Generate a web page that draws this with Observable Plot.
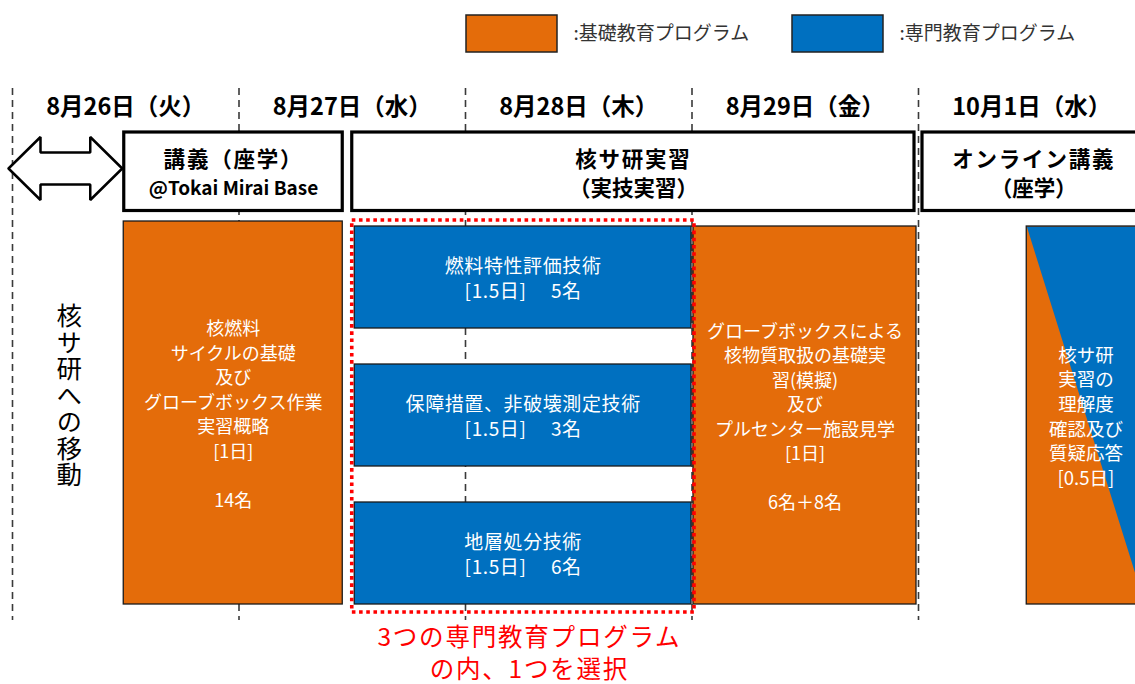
<!DOCTYPE html>
<html>
<head>
<meta charset="utf-8">
<script src="https://cdn.jsdelivr.net/npm/d3@7"></script>
<script src="https://cdn.jsdelivr.net/npm/@observablehq/plot@0.6"></script>
<style>
  html, body { margin: 0; padding: 0; background: #fff; overflow: hidden; }
  #chart svg { display: block; }
</style>
</head>
<body>
<div id="chart"></div>
<script>
// ---------------- data ----------------
const dayLabels = ["8月26日（火）", "8月27日（水）", "8月28日（木）", "8月29日（金）", "10月1日（水）"];
const daySlots = [0, 2, 4, 6, 8];            // first half-day slot of each day column

const sessionTitles = ["講義（座学）", "核サ研実習", "オンライン講義"];
const sessionSubtitles = ["@Tokai Mirai Base", "（実技実習）", "（座学）"];
const sessionStart = [1, 3, 8];               // half-day slots
const sessionEnd = [3, 8, 10];

const programTypes = ["基礎教育プログラム", "専門教育プログラム"];
const legendLabels = [":基礎教育プログラム", ":専門教育プログラム"];
const typeColors = ["#E46C0A", "#0070C0"];

const blockText = [
  "核燃料\nサイクルの基礎\n及び\nグローブボックス作業\n実習概略\n[1日]\n\n14名",
  "燃料特性評価技術\n[1.5日]　 5名",
  "保障措置、非破壊測定技術\n[1.5日]　 3名",
  "地層処分技術\n[1.5日]　 6名",
  "グローブボックスによる\n核物質取扱の基礎実\n習(模擬)\n及び\nプルセンター施設見学\n[1日]\n\n6名＋8名",
  "核サ研\n実習の\n理解度\n確認及び\n質疑応答\n[0.5日]"
];
const blockType = ["基礎教育プログラム", "専門教育プログラム", "専門教育プログラム", "専門教育プログラム", "基礎教育プログラム", "混合"];
const blockStart = [1, 3, 3, 3, 6, 9];
const blockEnd = [3, 6, 6, 6, 8, 10];
const blockLane = [null, 0, 1, 2, null, null]; // the 3 parallel elective programmes

const travelLabel = "核サ研への移動";
const travelStart = 0, travelEnd = 1;
const choiceNote = "3つの専門教育プログラム\nの内、1つを選択";

// ---------------- layout (pixels) ----------------
const X0 = 12, SLOT = 113.25;
const px = p => p / SLOT;                      // pixel offset -> slot units
const L = {
  legendY: [15, 52], legendTextY: 33.5, legendLeft: [466, 792], legendW: 91,
  dayLabelY: 107,
  ruleY: [88, 620],
  headY: [132, 210.5], headTitleY: 159.5, headSubY: 188.5,
  headInset: [[-1.5, 9.5], [0, 4], [4, 0]],
  bodyY: [226, 604], laneGap: 36,
  blockInset: [[-2, 9.5, -5], [2.5, 0.5, 0], [2.5, 0.5, 0], [2.5, 0.5, 0], [1.5, 2, 0], [-5, 0, 0]],
  choiceY: [220, 612], noteY: 651,
  travelY: 387, arrowY: 168
};

// ---------------- derived tables ----------------
const sessions = sessionTitles.map((t, i) => {
  const [il, ir] = L.headInset[i];
  const x1 = sessionStart[i] + px(il), x2 = sessionEnd[i] - px(ir);
  return {title: t, sub: sessionSubtitles[i], x1, x2, cx: (x1 + x2) / 2, i};
});

const blocks = blockText.map((text, i) => {
  const [top, bottom] = L.bodyY;
  const [il, ir, it] = L.blockInset[i];
  let y1 = top + it, y2 = bottom;
  const lane = blockLane[i];
  if (lane != null) {
    const h = (bottom - top - 2 * L.laneGap) / 3;
    y1 = top + lane * (h + L.laneGap);
    y2 = y1 + h;
  }
  const x1 = blockStart[i] + px(il), x2 = blockEnd[i] - px(ir);
  const isMixed = !programTypes.includes(blockType[i]);
  const type = isMixed ? programTypes[0] : blockType[i];
  return {text, type, mixed: isMixed, elective: lane != null, x1, x2, y1, y2,
          cx: (x1 + x2) / 2, cy: (y1 + y2) / 2};
});

// split blue/orange triangle in the mixed block
const mixed = blocks.find(b => b.mixed);
const tri = [
  {x: mixed.x1, y: mixed.y1}, {x: mixed.x2, y: mixed.y1}, {x: mixed.x2, y: mixed.y2}, {x: mixed.x1, y: mixed.y1}
];

// double-headed travel arrow
const tl = travelStart - px(4), tr = travelEnd - px(3.5), hl = px(32);
const cy = L.arrowY, hh = 31.5, sh = 16;
const arrow = [
  [tl, cy], [tl + hl, cy - hh], [tl + hl, cy - sh], [tr - hl, cy - sh], [tr - hl, cy - hh], [tr, cy],
  [tr - hl, cy + hh], [tr - hl, cy + sh], [tl + hl, cy + sh], [tl + hl, cy + hh], [tl, cy]
].map(([x, y]) => ({x, y}));

const legend = legendLabels.map((label, i) => ({
  label, type: programTypes[i],
  x1: px(L.legendLeft[i] - X0), x2: px(L.legendLeft[i] + L.legendW - X0)
}));

const days = dayLabels.map((label, i) => ({label, x: daySlots[i] + 1}));

const choice = {x1: blockStart[1], x2: blockEnd[1] + px(2.5)};

// ---------------- chart ----------------
const chart = Plot.plot({
  width: 1135,
  height: 684,
  margin: 0,
  style: {fontFamily: "'Noto Sans CJK JP', 'Noto Sans', sans-serif", background: "#fff", overflow: "hidden"},
  x: {domain: [0, 10], range: [X0, X0 + 10 * SLOT], axis: null},
  y: {domain: [0, 684], range: [0, 684], axis: null},
  color: {domain: programTypes, range: typeColors},
  marks: [
    // day boundaries
    Plot.ruleX(daySlots, {x: d => d, y1: L.ruleY[0], y2: L.ruleY[1], stroke: "#3a3a3a", strokeWidth: 1.6, strokeDasharray: "7,5"}),
    // legend
    Plot.rect(legend, {x1: "x1", x2: "x2", y1: L.legendY[0], y2: L.legendY[1], fill: "type", stroke: "#222", strokeWidth: 1.5}),
    Plot.text(legend, {x: "x2", dx: 16, y: L.legendTextY, text: "label", textAnchor: "start", fontSize: 19, fill: "#333"}),
    // day labels
    Plot.text(days, {x: "x", y: L.dayLabelY, text: "label", fontSize: 23.5, fontWeight: "bold", fill: "#000"}),
    // travel arrow
    Plot.line(arrow, {x: "x", y: "y", fill: "#fff", stroke: "#000", strokeWidth: 2.5, strokeLinejoin: "miter"}),
    Plot.text([travelLabel], {x: (travelStart + travelEnd) / 2, y: L.travelY, text: d => d,
      fontSize: 25.5, fill: "#000"}),
    // session header boxes
    Plot.rect(sessions, {x1: "x1", x2: "x2", y1: L.headY[0], y2: L.headY[1], fill: "#fff", stroke: "#000", strokeWidth: 3.2}),
    Plot.text(sessions, {x: "cx", y: L.headTitleY, text: "title", fontSize: 21.5, fontWeight: "bold", fill: "#000"}),
    Plot.text(sessions, {filter: d => d.i === 0, x: "cx", y: L.headSubY, text: "sub", fontSize: 19, fontWeight: "bold", fill: "#000"}),
    Plot.text(sessions, {filter: d => d.i !== 0, x: "cx", y: L.headSubY, text: "sub", fontSize: 21.5, fontWeight: "bold", fill: "#000"}),
    // programme blocks
    Plot.rect(blocks, {x1: "x1", x2: "x2", y1: "y1", y2: "y2", fill: "type"}),
    Plot.line(tri, {x: "x", y: "y", fill: typeColors[1], stroke: "none"}),
    Plot.rect(blocks, {x1: "x1", x2: "x2", y1: "y1", y2: "y2", fill: "none", stroke: "#1a1a1a", strokeWidth: 1.3}),
    Plot.text(blocks, {filter: d => !d.elective && !d.mixed, x: "cx", y: "cy", text: "text", fontSize: 18, lineHeight: 1.36, fill: "#fff"}),
    Plot.text(blocks, {filter: d => d.elective, x: "cx", y: "cy", text: "text", fontSize: 19, lineHeight: 1.33, fill: "#fff"}),
    Plot.text(blocks, {filter: d => d.mixed, x: "cx", y: "cy", text: "text", fontSize: 18.5, lineHeight: 1.33, fill: "#fff"}),
    // elective choice frame
    Plot.rect([choice], {x1: "x1", x2: "x2", y1: L.choiceY[0], y2: L.choiceY[1], fill: "none", stroke: "#FF0000",
      strokeWidth: 3.6, strokeDasharray: "3.6,3.6"}),
    Plot.text([choiceNote], {x: (choice.x1 + choice.x2) / 2, dx: 6, y: L.noteY, text: d => d, fontSize: 24.5,
      lineHeight: 1.34, fill: "#FF0000"})
  ]
});
const svg = d3.select(chart);
// render the travel label vertically (top-to-bottom) as one text
svg.selectAll("text").filter(function() { return this.textContent === travelLabel; })
  .attr("dy", null)
  .style("writing-mode", "vertical-rl")
  .style("text-orientation", "upright")
  .style("letter-spacing", "1px");
// slightly wider tracking for header titles, the elective texts and the red note, as in the original slide
svg.selectAll("text").filter(function() { return sessionTitles.includes(this.textContent); })
  .style("letter-spacing", "1.8px");
svg.selectAll("text").filter(function() { return this.textContent.replace(/\s/g, "") === choiceNote.replace(/\s/g, ""); })
  .style("letter-spacing", "1.8px");
svg.selectAll("text").filter(function() { return blockText.slice(1, 4).some(t => t.replace(/\s/g, "") === this.textContent.replace(/\s/g, "")); })
  .style("letter-spacing", "0.6px");
document.getElementById("chart").appendChild(chart);
</script>
</body>
</html>
